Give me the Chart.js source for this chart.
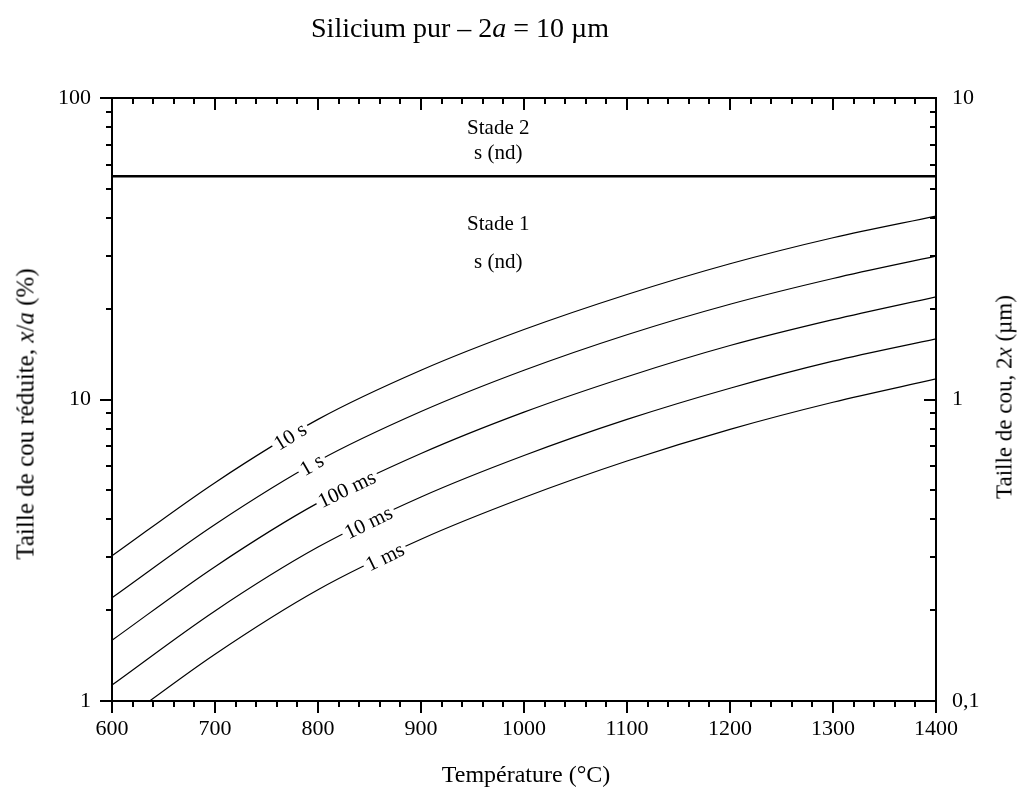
<!DOCTYPE html>
<html>
<head>
<meta charset="utf-8">
<script src="https://cdn.jsdelivr.net/npm/chart.js@4.4.0/dist/chart.umd.min.js"></script>
<style>
  body { margin: 0; background: #fff; }
  #wrap { position: relative; width: 1032px; height: 798px; font-family: "Liberation Serif", "DejaVu Serif", serif; color: #000; }
  #wrap canvas { position: absolute; left: 0; top: 0; }
  .txt { position: absolute; white-space: nowrap; line-height: 1; }
  #title { font-size: 28px; left: 460px; top: 28px; transform: translate(-50%, -50%); }
  #xTitle { font-size: 24px; left: 526px; top: 774px; transform: translate(-50%, -50%); }
  #yTitle { font-size: 25px; left: 25px; top: 414px; transform: translate(-50%, -50%) rotate(-90deg); }
  #y2Title { font-size: 23px; left: 1004px; top: 397px; transform: translate(-50%, -50%) rotate(-90deg); }
</style>
</head>
<body>
<div id="wrap">
  <canvas id="neckChart" width="1032" height="798"></canvas>
  <div class="txt" id="title">Silicium pur – 2<i>a</i> = 10 µm</div>
  <div class="txt" id="xTitle">Température (°C)</div>
  <div class="txt" id="yTitle">Taille de cou réduite, <i>x</i>/<i>a</i> (%)</div>
  <div class="txt" id="y2Title">Taille de cou, 2<i>x</i> (µm)</div>
</div>
<script>
// ---- données ----
var temperatures = [600, 700, 800, 900, 1000, 1100, 1200, 1300, 1400];
var neck10s   = [3.03, 5.30, 8.59, 12.5, 17.06, 22.3, 28.2, 34.4, 40.6];
var neck1s    = [2.20, 3.85, 6.25, 9.12, 12.5, 16.4, 20.7, 25.2, 29.9];
var neck100ms = [1.59, 2.79, 4.54, 6.62, 9.08, 11.9, 15.1, 18.4, 21.9];
var neck10ms  = [1.13, 1.99, 3.24, 4.75, 6.52, 8.59, 10.9, 13.4, 15.9];
var neck1ms   = [0.81, 1.43, 2.34, 3.44, 4.73, 6.25, 7.96, 9.79, 11.7];
var curveLabels = ['10 s', '1 s', '100 ms', '10 ms', '1 ms'];
var labelTemps = [773, 794, 828, 849, 865];

var stageBoundary = 55;
var stageTexts = ['Stade 2', 's (nd)', 'Stade 1', 's (nd)'];
var stageValues = [79, 65.7, 38.2, 28.4];
var stageTemp = 975;

var xMajorTicks = [600, 700, 800, 900, 1000, 1100, 1200, 1300, 1400];
var leftTickValues = [1, 10, 100];
var rightTickValues = [0.1, 1, 10];
var rightTickLabels = ['0,1', '1', '10'];

var curves = [neck10s, neck1s, neck100ms, neck10ms, neck1ms];

function toPoints(vals) {
    return temperatures.map(function (t, i) { return { x: t, y: vals[i] }; });
}

// interpolation log-linéaire pour placer les étiquettes
function logAt(vals, t) {
    for (var i = 0; i < temperatures.length - 1; i++) {
        if (t >= temperatures[i] && t <= temperatures[i + 1]) {
            var f = (t - temperatures[i]) / (temperatures[i + 1] - temperatures[i]);
            var a = Math.log10(vals[i]), b = Math.log10(vals[i + 1]);
            return Math.pow(10, a + f * (b - a));
        }
    }
    return vals[vals.length - 1];
}

var FONT = '"Liberation Serif", serif';

var datasets = curves.map(function (c, i) {
    return {
        label: curveLabels[i],
        data: toPoints(c),
        borderColor: '#000',
        borderWidth: 1.2,
        pointRadius: 0,
        cubicInterpolationMode: 'monotone',
        fill: false
    };
});
datasets.push({
    label: 'limite',
    data: [{ x: temperatures[0], y: stageBoundary }, { x: temperatures[temperatures.length - 1], y: stageBoundary }],
    borderColor: '#000',
    borderWidth: 2.5,
    pointRadius: 0,
    fill: false
});

// cadre, graduations et textes dans le graphe
var framePlugin = {
    id: 'framePlugin',
    afterDatasetsDraw: function (chart) {
        var ctx = chart.ctx, a = chart.chartArea;
        var xs = chart.scales.x, ys = chart.scales.y;
        ctx.save();

        // étiquettes des courbes
        ctx.font = '21px ' + FONT;
        ctx.textAlign = 'center';
        ctx.textBaseline = 'middle';
        for (var i = 0; i < curves.length; i++) {
            var t = labelTemps[i];
            var px = xs.getPixelForValue(t), py = ys.getPixelForValue(logAt(curves[i], t));
            var x0 = xs.getPixelForValue(t - 15), y0 = ys.getPixelForValue(logAt(curves[i], t - 15));
            var x1 = xs.getPixelForValue(t + 15), y1 = ys.getPixelForValue(logAt(curves[i], t + 15));
            var ang = Math.atan2(y1 - y0, x1 - x0);
            var w = ctx.measureText(curveLabels[i]).width;
            ctx.save();
            ctx.translate(px, py);
            ctx.rotate(ang);
            ctx.fillStyle = '#fff';
            ctx.fillRect(-w / 2 - 3, -7, w + 6, 14);
            ctx.fillStyle = '#000';
            ctx.fillText(curveLabels[i], 0, 1);
            ctx.restore();
        }

        // stades
        ctx.font = '21px ' + FONT;
        for (var s = 0; s < stageTexts.length; s++) {
            ctx.fillText(stageTexts[s], xs.getPixelForValue(stageTemp), ys.getPixelForValue(stageValues[s]));
        }

        // cadre
        ctx.strokeStyle = '#000';
        ctx.lineWidth = 2;
        ctx.strokeRect(a.left, a.top, a.right - a.left, a.bottom - a.top);

        // graduations en x (bas vers l'extérieur, haut vers l'intérieur)
        ctx.beginPath();
        for (var tx = xMajorTicks[0]; tx <= xMajorTicks[xMajorTicks.length - 1]; tx += 20) {
            var p = Math.round(xs.getPixelForValue(tx));
            var len = (xMajorTicks.indexOf(tx) >= 0) ? 12 : 6;
            ctx.moveTo(p, a.bottom); ctx.lineTo(p, a.bottom + len);
            ctx.moveTo(p, a.top); ctx.lineTo(p, a.top + len);
        }
        // graduations en y (vers la gauche des deux côtés)
        for (var d = 0; d < leftTickValues.length; d++) {
            var dec = leftTickValues[d];
            for (var m = 1; m <= 9; m++) {
                var v = m * dec;
                if (v > 100) break;
                var q = Math.round(ys.getPixelForValue(v));
                var l = (m === 1) ? 12 : 6;
                ctx.moveTo(a.left - l, q); ctx.lineTo(a.left, q);
                ctx.moveTo(a.right - l, q); ctx.lineTo(a.right, q);
            }
        }
        ctx.stroke();
        ctx.restore();
    }
};

var ctxChart = document.getElementById('neckChart').getContext('2d');
var chart = new Chart(ctxChart, {
    type: 'line',
    data: { datasets: datasets },
    options: {
        responsive: false,
        animation: false,
        devicePixelRatio: 1,
        layout: { padding: 0 },
        plugins: {
            legend: { display: false },
            tooltip: { enabled: false },
            title: { display: false }
        },
        scales: {
            x: {
                type: 'linear',
                position: 'bottom',
                min: 600, max: 1400,
                grid: { display: false, drawTicks: false },
                border: { display: false },
                ticks: {
                    stepSize: 100,
                    padding: 15,
                    color: '#000',
                    font: { family: FONT, size: 22 },
                    maxRotation: 0,
                    autoSkip: false,
                    callback: function (value) { return String(value); }
                },
                afterFit: function (s) { s.height = 97; }
            },
            xTop: {
                type: 'linear',
                position: 'top',
                min: 600, max: 1400,
                grid: { display: false, drawTicks: false },
                border: { display: false },
                ticks: { display: false },
                afterFit: function (s) { s.height = 98; }
            },
            y: {
                type: 'logarithmic',
                position: 'left',
                min: 1, max: 100,
                grid: { display: false, drawTicks: false },
                border: { display: false },
                ticks: {
                    padding: 21,
                    color: '#000',
                    font: { family: FONT, size: 22 },
                    autoSkip: false,
                    callback: function (value) {
                        return leftTickValues.indexOf(value) >= 0 ? String(value) : null;
                    }
                },
                afterFit: function (s) { s.width = 112; }
            },
            y2: {
                type: 'logarithmic',
                position: 'right',
                min: 0.1, max: 10,
                grid: { display: false, drawTicks: false },
                border: { display: false },
                ticks: {
                    padding: 16,
                    color: '#000',
                    font: { family: FONT, size: 22 },
                    autoSkip: false,
                    callback: function (value) {
                        for (var i = 0; i < rightTickValues.length; i++) {
                            if (Math.abs(value - rightTickValues[i]) < 1e-9) return rightTickLabels[i];
                        }
                        return null;
                    }
                },
                afterFit: function (s) { s.width = 96; }
            }
        }
    },
    plugins: [framePlugin]
});
</script>
</body>
</html>
